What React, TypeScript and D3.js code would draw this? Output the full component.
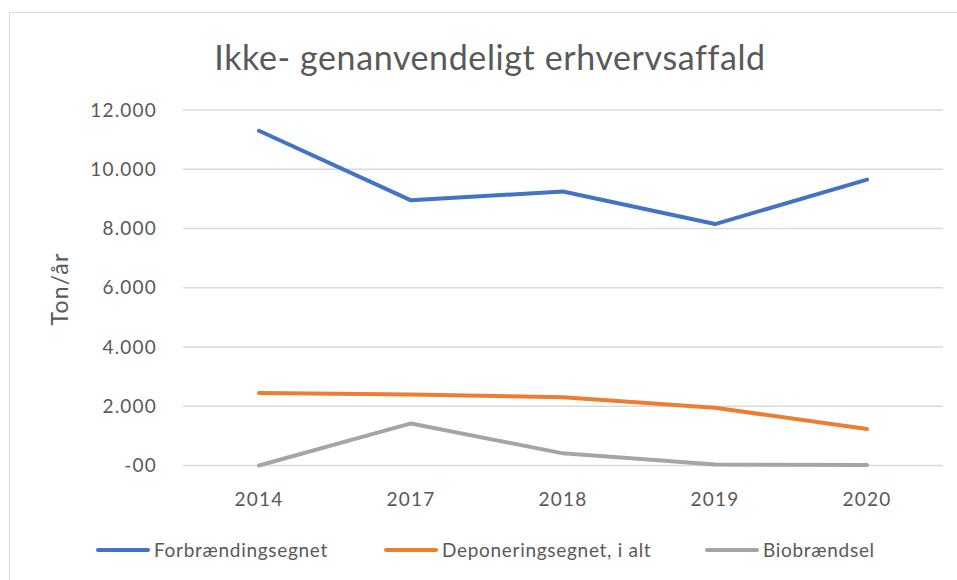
import { useEffect, useRef } from "react";
import * as d3 from "d3";

const years = ["2014", "2017", "2018", "2019", "2020"];
const forbraending = [11300, 8950, 9250, 8150, 9650];
const deponering = [2450, 2400, 2300, 1950, 1230];
const biobraendsel = [0, 1420, 410, 30, 20];
const yTicks = [0, 2000, 4000, 6000, 8000, 10000, 12000];
const yTickLabels = ["-00", "2.000", "4.000", "6.000", "8.000", "10.000", "12.000"];
const seriesNames = ["Forbrændingsegnet", "Deponeringsegnet, i alt", "Biobrændsel"];
const seriesColors = ["#4472C4", "#ED7D31", "#A5A5A5"];

const FONT = "Lato, 'Open Sans', sans-serif";

export default function App() {
  const svgRef = useRef<SVGSVGElement | null>(null);
  const width = 957;
  const height = 580;

  useEffect(() => {
    if (!svgRef.current) return;
    const svg = d3.select(svgRef.current);
    svg.selectAll("*").remove();

    const x = d3.scaleBand().domain(years).range([183, 943]);
    const y = d3.scaleLinear().domain([0, 12000]).range([465.5, 110]);
    const cx = (d: string) => (x(d) ?? 0) + x.bandwidth() / 2;

    // chart frame
    svg.append("rect")
      .attr("x", 9.5).attr("y", 12.5)
      .attr("width", 1000).attr("height", 1000)
      .attr("fill", "#fff")
      .attr("stroke", "#d9d9d9").attr("stroke-width", 1);

    svg.append("text")
      .attr("x", 490).attr("y", 70)
      .attr("text-anchor", "middle")
      .style("font-family", FONT)
      .style("font-size", "34px")
      .style("letter-spacing", "0.6px")
      .style("fill", "#595959")
      .text("Ikke- genanvendeligt erhvervsaffald");

    // gridlines
    svg.append("g").selectAll("line")
      .data(yTicks)
      .enter().append("line")
      .attr("x1", 183).attr("x2", 943)
      .attr("y1", d => y(d)).attr("y2", d => y(d))
      .attr("stroke", "#d9d9d9").attr("stroke-width", 1.3);

    // y tick labels
    svg.append("g").selectAll("text")
      .data(yTicks)
      .enter().append("text")
      .attr("x", 157)
      .attr("y", d => y(d) + 6.5)
      .attr("text-anchor", "end")
      .style("font-family", FONT)
      .style("font-size", "19px")
      .style("letter-spacing", "1.2px")
      .style("fill", "#595959")
      .text((_, i) => yTickLabels[i]);

    svg.append("text")
      .attr("transform", "translate(68,289) rotate(-90)")
      .attr("text-anchor", "middle")
      .style("font-family", FONT)
      .style("font-size", "23px")
      .style("letter-spacing", "1.2px")
      .style("fill", "#595959")
      .text("Ton/år");

    // x tick labels
    svg.append("g").selectAll("text")
      .data(years)
      .enter().append("text")
      .attr("x", d => cx(d))
      .attr("y", 506)
      .attr("text-anchor", "middle")
      .style("font-family", FONT)
      .style("font-size", "19px")
      .style("letter-spacing", "1.2px")
      .style("fill", "#595959")
      .text(d => d);

    const allSeries = [forbraending, deponering, biobraendsel];
    const line = d3.line<number>()
      .x((_, i) => cx(years[i]))
      .y(d => y(d));

    allSeries.forEach((vals, i) => {
      svg.append("path")
        .datum(vals)
        .attr("d", line)
        .attr("fill", "none")
        .attr("stroke", seriesColors[i])
        .attr("stroke-width", 4)
        .attr("stroke-linecap", "round")
        .attr("stroke-linejoin", "round");
    });

    // legend
    const legendX = [98, 386, 707];
    const lg = svg.append("g");
    seriesNames.forEach((name, i) => {
      lg.append("line")
        .attr("x1", legendX[i]).attr("x2", legendX[i] + 50)
        .attr("y1", 550).attr("y2", 550)
        .attr("stroke", seriesColors[i])
        .attr("stroke-width", 4)
        .attr("stroke-linecap", "round");
      lg.append("text")
        .attr("x", legendX[i] + 56)
        .attr("y", 557)
        .style("font-family", FONT)
        .style("font-size", "19px")
        .style("letter-spacing", "0.7px")
        .style("fill", "#595959")
        .text(name);
    });
  }, []);

  return (
    <svg
      ref={svgRef}
      width={width}
      height={height}
      style={{ position: "absolute", left: 0, top: 0, background: "#fff" }}
    />
  );
}
